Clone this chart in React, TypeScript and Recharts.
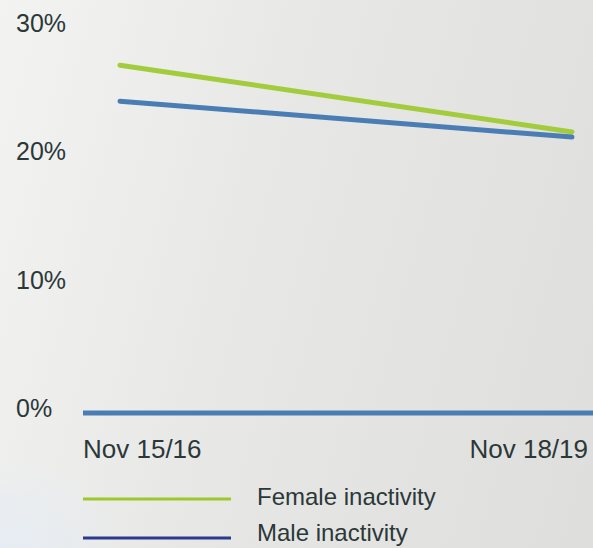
import { LineChart, Line, XAxis, YAxis, Legend } from 'recharts';

const periods = ['Nov 15/16', 'Nov 18/19'];
const female = [27.1, 21.9];
const male = [24.3, 21.5];
const yTicks = [0, 10, 20, 30];

const seriesNames = ['Female inactivity', 'Male inactivity'];
const lineColors = ['#a3cc3d', '#4a7db3'];
const legendColors = ['#9cc92a', '#2b3a8c'];

const data = periods.map((p, i) => ({ period: p, female: female[i], male: male[i] }));

const FONT = '"Liberation Sans", Arial, Helvetica, sans-serif';
const TEXT = '#2b3838';

const YTick = (props: any) => {
  const { y, payload } = props;
  return (
    <text x={16} y={y} dy={4} textAnchor="start" fontSize={25} fontFamily={FONT} fill={TEXT}>
      {payload.value}%
    </text>
  );
};

const XTick = (props: any) => {
  const { x, y, payload, index } = props;
  const first = index === 0;
  return (
    <text
      x={first ? x - 37 : x + 16}
      y={y}
      dy={45}
      textAnchor={first ? 'start' : 'end'}
      fontSize={26}
      fontFamily={FONT}
      fill={TEXT}
    >
      {payload.value}
    </text>
  );
};

const LegendBox = () => (
  <svg width={593} height={68}>
    {seriesNames.map((name, i) => (
      <g key={name}>
        <line x1={83} x2={231} y1={19 + i * 39} y2={19 + i * 39} stroke={legendColors[i]} strokeWidth={3} />
        <text x={257} y={25 + i * 36} fontSize={24} fontFamily={FONT} fill={TEXT}>
          {name}
        </text>
      </g>
    ))}
  </svg>
);

export default function App() {
  return (
    <div
      style={{
        position: 'absolute',
        left: 0,
        top: 0,
        width: 593,
        height: 548,
        overflow: 'hidden',
        background:
          'radial-gradient(ellipse 120px 90px at 0% 100%, rgba(228,236,244,0.9), rgba(228,236,244,0)), linear-gradient(105deg, #f3f3f2 0%, #e7e7e6 45%, #dededd 100%)',
      }}
    >
      <LineChart width={593} height={548} data={data} margin={{ top: 28, right: 0, bottom: 0, left: 0 }}>
        <XAxis
          dataKey="period"
          axisLine={{ stroke: '#4a7db3', strokeWidth: 5 }}
          tickLine={false}
          tickSize={0}
          tickMargin={0}
          height={135}
          padding={{ left: 37, right: 21 }}
          tick={<XTick />}
          interval={0}
        />
        <YAxis
          width={83}
          domain={[0, 30]}
          ticks={yTicks}
          axisLine={false}
          tickLine={false}
          tick={<YTick />}
        />
        <Legend
          verticalAlign="middle"
          align="center"
          layout="horizontal"
          content={<LegendBox />}
          wrapperStyle={{ top: 480, left: 0, width: 593 }}
        />
        <Line
          type="linear"
          dataKey="female"
          stroke={lineColors[0]}
          strokeWidth={5}
          strokeLinecap="round"
          dot={false}
          isAnimationActive={false}
        />
        <Line
          type="linear"
          dataKey="male"
          stroke={lineColors[1]}
          strokeWidth={5}
          strokeLinecap="round"
          dot={false}
          isAnimationActive={false}
        />
      </LineChart>
    </div>
  );
}
